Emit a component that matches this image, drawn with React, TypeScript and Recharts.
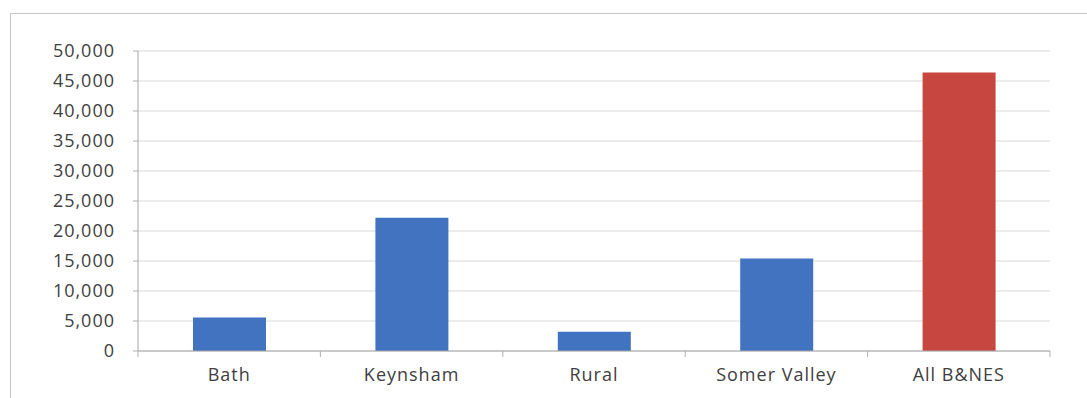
import { BarChart, Bar, XAxis, YAxis, CartesianGrid, Cell } from 'recharts';

const categories = ['Bath', 'Keynsham', 'Rural', 'Somer Valley', 'All B&NES'];
const values = [5600, 22200, 3200, 15400, 46400];
const barColors = ['#4173c0', '#4173c0', '#4173c0', '#4173c0', '#c7463f'];
const yTicks = [0, 5000, 10000, 15000, 20000, 25000, 30000, 35000, 40000, 45000, 50000];

const data = categories.map((name, i) => ({ name, value: values[i] }));

const fmt = (v: number) => v.toLocaleString('en-US');

const font = '"Open Sans", sans-serif';
const textStyle = { fill: '#404040', fontSize: 18, letterSpacing: 1, fontFamily: font };
const LABEL_GAP = 17;

// category label plus the small divider tick Excel draws between categories
const CategoryTick = (props: any) => {
  const { x, y, payload, index, visibleTicksCount } = props;
  const off = payload.offset || 0;
  const axisY = y - LABEL_GAP;
  const isLast = index === visibleTicksCount - 1;
  return (
    <g>
      <line x1={x - off} x2={x - off} y1={axisY} y2={axisY + 6} stroke="#b0b0b0" />
      {isLast && <line x1={x + off} x2={x + off} y1={axisY} y2={axisY + 6} stroke="#b0b0b0" />}
      <text x={x} y={y} dy="0.71em" textAnchor="middle" {...textStyle}>
        {payload.value}
      </text>
    </g>
  );
};

export default function App() {
  return (
    <div style={{ position: 'absolute', left: 0, top: 0, width: 1087, height: 398, background: '#fff' }}>
      <div
        style={{
          position: 'absolute',
          left: 10,
          top: 13,
          right: 0,
          bottom: 0,
          borderTop: '1px solid #c8c8c8',
          borderLeft: '1px solid #c8c8c8',
        }}
      />
      <div style={{ position: 'absolute', left: 0, top: 0 }}>
        <BarChart
          width={1087}
          height={398}
          data={data}
          margin={{ top: 51, right: 37, bottom: 0, left: 0 }}
        >
          <CartesianGrid vertical={false} stroke="#d9d9d9" />
          <XAxis
            dataKey="name"
            height={47}
            tickLine={false}
            tickSize={0}
            tickMargin={LABEL_GAP}
            axisLine={{ stroke: '#a6a6a6' }}
            tick={<CategoryTick />}
            interval={0}
          />
          <YAxis
            width={138}
            domain={[0, 50000]}
            ticks={yTicks}
            tickFormatter={fmt}
            tick={textStyle}
            tickSize={5}
            tickMargin={18}
            tickLine={{ stroke: '#b0b0b0' }}
            axisLine={{ stroke: '#a6a6a6' }}
          />
          <Bar dataKey="value" barSize={73} isAnimationActive={false}>
            {data.map((d, i) => (
              <Cell key={d.name} fill={barColors[i]} />
            ))}
          </Bar>
        </BarChart>
      </div>
    </div>
  );
}
